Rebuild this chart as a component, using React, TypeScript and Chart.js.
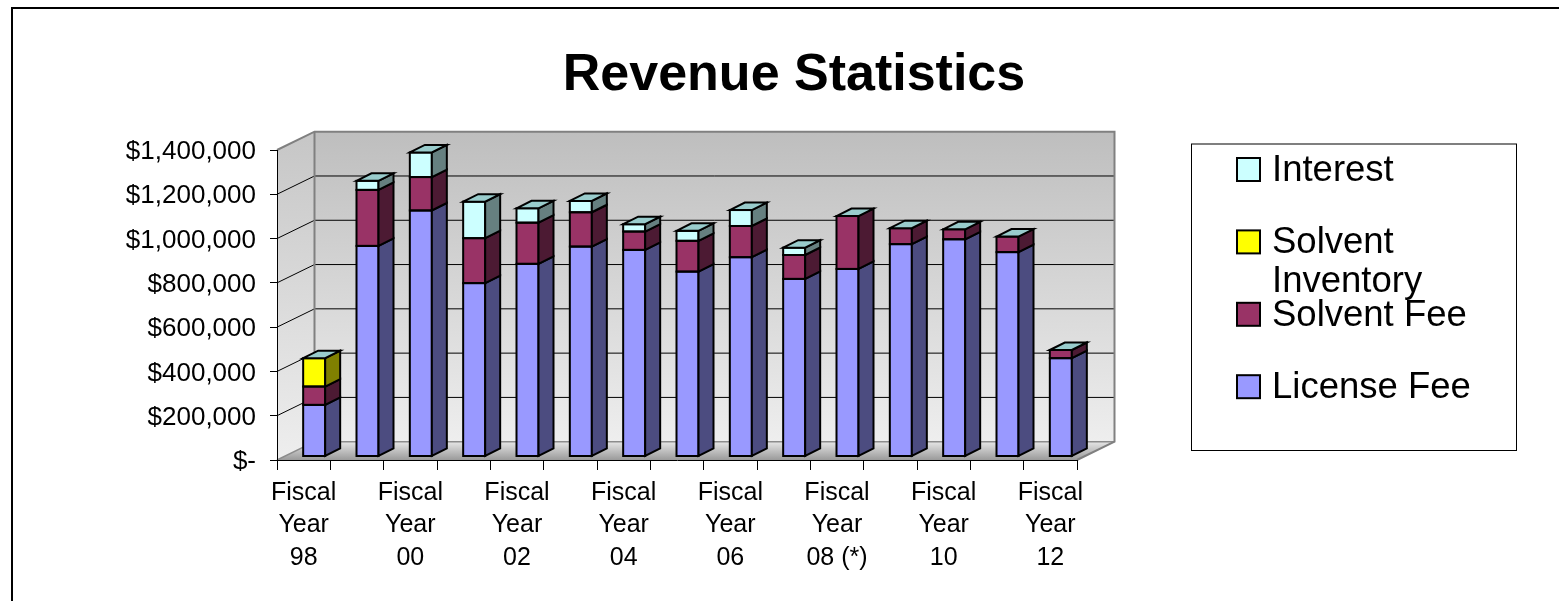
import React, { useEffect, useRef } from "react";
import { Chart, registerables } from "chart.js";

Chart.register(...registerables);

// ---- data ----
const categories = ["98", "99", "00", "01", "02", "03", "04", "05", "06", "07", "08 (*)", "09", "10", "11", "12"];
const licenseFee = [233000, 951000, 1111000, 783000, 870000, 948000, 933000, 835000, 900000, 802000, 847000, 959000, 981000, 923000, 444000];
const solventFee = [83000, 253000, 151000, 203000, 186000, 155000, 83000, 139000, 141000, 108000, 239000, 72000, 45000, 70000, 37000];
const solventInventory = [128000, 0, 0, 0, 0, 0, 0, 0, 0, 0, 0, 0, 0, 0, 0];
const interest = [0, 41000, 111000, 165000, 65000, 51000, 33000, 45000, 72000, 33000, 0, 0, 0, 0, 0];
const seriesNames = ["License Fee", "Solvent Fee", "Solvent Inventory", "Interest"];
const seriesData = [licenseFee, solventFee, solventInventory, interest];
const yMin = 0;
const yMax = 1400000;
const yStep = 200000;

// ---- styles ----
const FONT = "'Liberation Sans', Arial, sans-serif";
const frontColors = ["#9999FF", "#993366", "#FFFF00", "#CCFFFF"];
const sideColors = ["#4C4C80", "#4C1A33", "#808000", "#668080"];
const topColor = "#99CCCC";

const WALL_DX = 37.5;
const WALL_DY = -18.3;
const BAR_SHIFT_X = 10.5;
const BAR_SHIFT_Y = -3.5;
const BAR_DX = 15;
const BAR_DY = -7.5;

const threeD = {
  id: "threeD",
  beforeDraw(chart: any) {
    const { ctx, chartArea } = chart;
    const { left, right, top, bottom } = chartArea;
    const y = chart.scales.y;
    const bl = left + WALL_DX, br = right + WALL_DX, bt = top + WALL_DY, bb = bottom + WALL_DY;
    ctx.save();
    // back wall
    let g = ctx.createLinearGradient(0, bt, 0, bb);
    g.addColorStop(0, "#BEBEBE");
    g.addColorStop(1, "#EEEEEE");
    ctx.fillStyle = g;
    ctx.fillRect(bl, bt, br - bl, bb - bt);
    // left wall
    g = ctx.createLinearGradient(0, bt, 0, bottom);
    g.addColorStop(0, "#C6C6C6");
    g.addColorStop(1, "#EEEEEE");
    ctx.fillStyle = g;
    ctx.beginPath();
    ctx.moveTo(left, top);
    ctx.lineTo(bl, bt);
    ctx.lineTo(bl, bb);
    ctx.lineTo(left, bottom);
    ctx.closePath();
    ctx.fill();
    // floor
    g = ctx.createLinearGradient(0, bb, 0, bottom);
    g.addColorStop(0, "#E6E6E6");
    g.addColorStop(1, "#9A9A9A");
    ctx.fillStyle = g;
    ctx.beginPath();
    ctx.moveTo(left, bottom);
    ctx.lineTo(bl, bb);
    ctx.lineTo(br, bb);
    ctx.lineTo(right, bottom);
    ctx.closePath();
    ctx.fill();
    // gridlines
    for (let v = yMin + yStep; v < yMax; v += yStep) {
      const yy = y.getPixelForValue(v);
      ctx.strokeStyle = "#000";
      ctx.lineWidth = 1;
      ctx.beginPath();
      ctx.moveTo(left, yy);
      ctx.lineTo(bl, yy + WALL_DY);
      ctx.lineTo(br, yy + WALL_DY);
      ctx.stroke();
    }
    // zero line
    ctx.strokeStyle = "#8C8C8C";
    ctx.lineWidth = 1.5;
    ctx.beginPath();
    ctx.moveTo(left, bottom);
    ctx.lineTo(bl, bb);
    ctx.lineTo(br, bb);
    ctx.stroke();
    // wall outlines
    ctx.strokeStyle = "#808080";
    ctx.lineWidth = 2;
    ctx.beginPath();
    ctx.moveTo(left, top);
    ctx.lineTo(bl, bt);
    ctx.lineTo(br, bt);
    ctx.lineTo(br, bb);
    ctx.lineTo(right, bottom);
    ctx.moveTo(bl, bt);
    ctx.lineTo(bl, bb);
    ctx.stroke();
    ctx.restore();
  },
  beforeDatasetsDraw(chart: any) {
    chart.ctx.save();
    chart.ctx.translate(BAR_SHIFT_X, BAR_SHIFT_Y);
  },
  afterDatasetsDraw(chart: any) {
    const { ctx } = chart;
    ctx.lineWidth = 2;
    ctx.strokeStyle = "#000";
    ctx.lineJoin = "miter";
    const n = categories.length;
    for (let i = 0; i < n; i++) {
      let stackTop = Infinity;
      let lft = 0, rgt = 0;
      for (let d = 0; d < seriesData.length; d++) {
        const el: any = chart.getDatasetMeta(d).data[i];
        if (!el) continue;
        const p = el.getProps(["x", "y", "base", "width"], true);
        lft = p.x - p.width / 2;
        rgt = p.x + p.width / 2;
        const t = Math.min(p.y, p.base);
        const b = Math.max(p.y, p.base);
        if (seriesData[d][i] <= 0) continue;
        stackTop = Math.min(stackTop, t);
        // front outline
        ctx.strokeRect(lft, t, rgt - lft, b - t);
        // side face
        ctx.fillStyle = sideColors[d];
        ctx.beginPath();
        ctx.moveTo(rgt, t);
        ctx.lineTo(rgt + BAR_DX, t + BAR_DY);
        ctx.lineTo(rgt + BAR_DX, b + BAR_DY);
        ctx.lineTo(rgt, b);
        ctx.closePath();
        ctx.fill();
        ctx.stroke();
      }
      if (stackTop !== Infinity) {
        ctx.fillStyle = topColor;
        ctx.beginPath();
        ctx.moveTo(lft, stackTop);
        ctx.lineTo(lft + BAR_DX, stackTop + BAR_DY);
        ctx.lineTo(rgt + BAR_DX, stackTop + BAR_DY);
        ctx.lineTo(rgt, stackTop);
        ctx.closePath();
        ctx.fill();
        ctx.stroke();
      }
    }
    ctx.restore();
  },
  afterDraw(chart: any) {
    const { ctx } = chart;
    const boxL = 1191, boxT = 143.5, boxR = 1516, boxB = 450;
    ctx.save();
    ctx.fillStyle = "#fff";
    ctx.fillRect(boxL, boxT, boxR - boxL, boxB - boxT);
    ctx.strokeStyle = "#000";
    ctx.lineWidth = 1;
    ctx.strokeRect(boxL + 0.5, boxT + 0.5, boxR - boxL, boxB - boxT);
    ctx.font = `36.5px ${FONT}`;
    ctx.textBaseline = "alphabetic";
    ctx.textAlign = "left";
    const sqX = 1237, sq = 23, textX = 1272, firstTop = 158, step = 72.4, lineGap = 38.5;
    const maxW = boxR - textX - 6;
    const order = [3, 2, 1, 0];
    order.forEach((d, k) => {
      const sTop = firstTop + k * step;
      ctx.fillStyle = frontColors[d];
      ctx.fillRect(sqX, sTop, sq, sq);
      ctx.lineWidth = 2;
      ctx.strokeStyle = "#000";
      ctx.strokeRect(sqX, sTop, sq, sq);
      // wrap words
      const words = seriesNames[d].split(" ");
      const lines: string[] = [];
      let cur = "";
      for (const w of words) {
        const test = cur ? cur + " " + w : w;
        if (cur && ctx.measureText(test).width > maxW) {
          lines.push(cur);
          cur = w;
        } else cur = test;
      }
      if (cur) lines.push(cur);
      ctx.fillStyle = "#000";
      lines.forEach((ln, j) => ctx.fillText(ln, textX, sTop + sq + j * lineGap));
    });
    ctx.restore();
  },
};

export default function App() {
  const ref = useRef<HTMLCanvasElement>(null);
  useEffect(() => {
    const chart = new Chart(ref.current as HTMLCanvasElement, {
      type: "bar",
      data: {
        labels: categories,
        datasets: seriesData.map((data, d) => ({
          label: seriesNames[d],
          data,
          backgroundColor: frontColors[d],
          borderWidth: 0,
          barPercentage: 0.4125,
          categoryPercentage: 1,
          clip: false,
        })),
      },
      options: {
        responsive: false,
        animation: false,
        layout: { padding: { left: 29, right: 0, top: 0, bottom: 0 } },
        plugins: {
          legend: { display: false },
          tooltip: { enabled: false },
          title: {
            display: true,
            text: "Revenue Statistics",
            color: "#000",
            font: { family: FONT, size: 52, weight: "bold" },
            padding: { top: 44, bottom: 43.6 },
          },
        },
        scales: {
          x: {
            stacked: true,
            offset: true,
            grid: { display: true, offset: true, drawOnChartArea: false, drawTicks: true, tickLength: 10, color: "#000" },
            border: { display: true, color: "#000", width: 1 },
            ticks: {
              autoSkip: false,
              maxRotation: 0,
              minRotation: 0,
              padding: 6.5,
              color: "#000",
              font: { family: FONT, size: 25, lineHeight: 1.3 },
              callback: (_v: any, i: number) => (i % 2 === 0 ? ["Fiscal", "Year", categories[i]] : ""),
            },
            afterFit: (s: any) => {
              s.height = 141;
            },
          },
          y: {
            stacked: true,
            min: yMin,
            max: yMax,
            grid: { display: true, drawOnChartArea: false, drawTicks: true, tickLength: 7, color: "#000" },
            border: { display: true, color: "#000", width: 1 },
            ticks: {
              stepSize: yStep,
              padding: 14,
              labelOffset: 2,
              color: "#000",
              font: { family: FONT, size: 26 },
              callback: (v: any) => (Number(v) === 0 ? "$-" : "$" + Number(v).toLocaleString("en-US")),
            },
            afterFit: (s: any) => {
              s.width = 248;
            },
          },
          yRight: {
            type: "linear",
            position: "right",
            display: true,
            grid: { display: false, drawTicks: false },
            border: { display: false },
            ticks: { display: false },
            afterFit: (s: any) => {
              s.width = 482;
            },
          },
        },
      } as any,
      plugins: [threeD],
    });
    return () => chart.destroy();
  }, []);
  return (
    <>
      <canvas
        ref={ref}
        width={1559}
        height={601}
        style={{ position: "fixed", left: 0, top: 0, width: 1559, height: 601, display: "block" }}
      />
      <div
        style={{
          position: "fixed",
          left: 11,
          top: 7,
          width: 1600,
          height: 700,
          border: "2px solid #000",
          boxSizing: "border-box",
          pointerEvents: "none",
        }}
      />
    </>
  );
}
